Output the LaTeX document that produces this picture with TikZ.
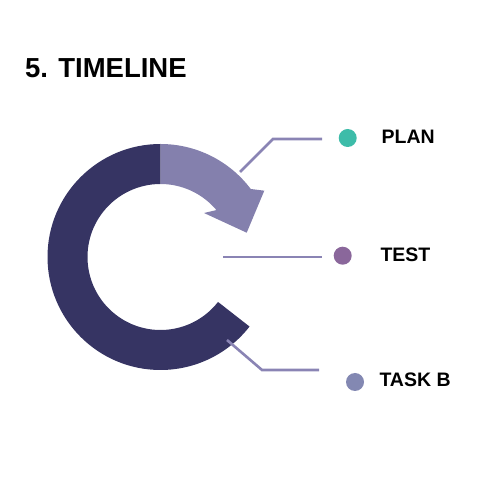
\documentclass[tikz,border=0pt]{standalone}
\usepackage{fontspec}
\setmainfont{Liberation Sans}
\usetikzlibrary{calc}
\definecolor{ringdark}{HTML}{363463}
\definecolor{ringlight}{HTML}{8480AD}
\definecolor{leader}{HTML}{8A84B4}
\definecolor{dotteal}{HTML}{3DBCA9}
\definecolor{dotpurple}{HTML}{8A679B}
\definecolor{dotblue}{HTML}{8388B2}
\begin{document}
\begin{tikzpicture}[x=1pt,y=1pt,
  leaderline/.style={draw=leader,line width=2.6pt},
  dotmark/.style={circle,inner sep=0pt,minimum size=18pt},
  lbl/.style={font=\fontsize{19.5}{20}\selectfont\bfseries,inner sep=0pt,anchor=base west}]
\useasboundingbox (0,0) rectangle (500,500);
\coordinate (C) at (160.5,243);
% title
\node[font=\fontsize{27.5}{30}\selectfont\bfseries,inner sep=0pt,anchor=base west] (title) at (25,422.3) {5. TIMELINE};
% dark ring segment
\fill[ringdark] ($(C)+(90:113)$) arc[start angle=90,end angle=322,radius=113]
  -- ($(C)+(322:73)$) arc[start angle=322,end angle=90,radius=73] -- cycle;
% light arrow segment
\fill[ringlight] ($(C)+(90:113)$) arc[start angle=90,end angle=37,radius=113]
  -- (264.3,309.3) -- (246.7,267.3) -- (204,287) -- ($(C)+(40:73)$)
  arc[start angle=40,end angle=90,radius=73] -- cycle;
% dots
\node[dotmark,fill=dotteal] (d1) at (347.7,362) {};
\node[dotmark,fill=dotpurple] (d2) at (342.7,244.3) {};
\node[dotmark,fill=dotblue] (d3) at (355,118) {};
% labels
\node[lbl] (l1) at (381.5,356) {PLAN};
\node[lbl] (l2) at (380.3,238.3) {TEST};
\node[lbl] (l3) at (379.3,113.3) {TASK B};
% leader lines
\coordinate (a1) at (240,328);
\coordinate (b1) at (273,361);
\coordinate (e1) at (322,361);
\coordinate (a2) at (223,243);
\coordinate (e2) at (322,243);
\coordinate (a3) at (227,160);
\coordinate (b3) at (262,130);
\coordinate (e3) at (319,130);
\draw[leaderline] (a1) -- (b1) -- (e1);
\draw[leaderline] (a2) -- (e2);
\draw[leaderline] (a3) -- (b3) -- (e3);
\end{tikzpicture}
\end{document}
